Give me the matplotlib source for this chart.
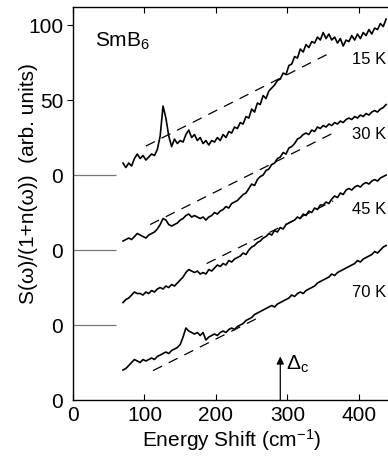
import numpy as np
import matplotlib
matplotlib.use("Agg")
import matplotlib.pyplot as plt

plt.rcParams['font.family'] = ['Liberation Sans', 'DejaVu Sans']
plt.rcParams['mathtext.fontset'] = 'custom'
plt.rcParams['mathtext.rm'] = 'Liberation Sans'
plt.rcParams['mathtext.it'] = 'Liberation Sans:italic'

# energy shift (cm-1), one sample every 4 cm-1
energy = np.arange(70, 442, 4)

# spectra, each relative to its own zero line
s15 = [8, 5, 8, 6, 11, 14, 11, 13, 10, 12,
       14, 13, 17, 26, 46, 38, 26, 19, 24, 21,
       23, 22, 27, 30, 25, 27, 23, 25, 21, 23,
       20, 23, 22, 25, 23, 27, 25, 29, 28, 32,
       31, 35, 34, 39, 38, 44, 42, 48, 47, 53,
       51, 56, 58, 60, 63, 64, 68, 67, 73, 74,
       79, 78, 84, 82, 87, 85, 89, 88, 92, 90,
       95, 91, 94, 90, 92, 88, 91, 86, 90, 89,
       93, 90, 94, 91, 95, 93, 97, 94, 98, 97,
       101, 99, 104]
s30 = [6, 7, 8, 7, 9, 11, 10, 9, 8, 10,
       11, 12, 14, 17, 21, 20, 17, 16, 17, 18,
       20, 21, 23, 24, 22, 23, 22, 21, 22, 20,
       22, 23, 25, 24, 26, 27, 29, 28, 31, 32,
       33, 35, 37, 38, 41, 44, 43, 47, 49, 50,
       53, 54, 57, 58, 61, 62, 65, 64, 68, 69,
       71, 74, 75, 77, 78, 77, 80, 79, 82, 81,
       83, 82, 84, 83, 85, 84, 86, 85, 87, 88,
       87, 89, 88, 90, 89, 91, 90, 92, 93, 92,
       94, 95, 97]
s45 = [15, 17, 18, 20, 22, 21, 21, 20, 22, 21,
       23, 22, 24, 25, 24, 26, 25, 27, 26, 28,
       30, 32, 35, 37, 36, 35, 36, 34, 35, 34,
       37, 36, 38, 40, 39, 41, 40, 43, 42, 44,
       45, 46, 48, 47, 50, 52, 53, 55, 56, 58,
       59, 61, 60, 63, 62, 65, 64, 67, 68, 69,
       70, 72, 71, 74, 73, 76, 75, 78, 77, 80,
       80, 82, 81, 84, 86, 85, 88, 87, 90, 91,
       90, 92, 93, 92, 94, 95, 94, 96, 97, 96,
       98, 99, 100]
s70 = [20, 21, 23, 25, 27, 26, 25, 27, 26, 27,
       28, 27, 29, 30, 31, 32, 31, 33, 34, 35,
       37, 42, 48, 46, 45, 44, 45, 43, 45, 40,
       42, 43, 44, 43, 45, 46, 45, 47, 48, 47,
       49, 50, 51, 53, 54, 55, 57, 58, 59, 60,
       61, 62, 63, 62, 64, 65, 66, 67, 68, 70,
       69, 71, 72, 71, 73, 74, 75, 76, 78, 79,
       80, 81, 82, 84, 83, 85, 86, 87, 88, 89,
       90, 91, 93, 92, 94, 95, 96, 97, 99, 98,
       100, 102, 103]

spectra = [s15, s30, s45, s70]
temps = ['15 K', '30 K', '45 K', '70 K']
offsets = [150, 100, 50, 0]

# dashed background lines: (x0, y0) -> (x1, y1), relative to zero line
dash_x0 = [102, 108, 187, 112]
dash_y0 = [19.3, 17, 41, 19.6]
dash_x1 = [360, 364, 364, 262]
dash_y1 = [81.5, 78, 82.7, 55.5]

label_y = [77, 77, 77, 72]  # height of "xx K" labels above zero line

ytick_pos = [0, 50, 100, 150, 200, 250]
ytick_lab = ['0', '0', '0', '0', '50', '100']

gap_edge = 290   # Delta_c position
gap_top = 29

fig = plt.figure(figsize=(3.88, 4.58), dpi=100)
ax = fig.add_axes([0.188, 0.1266, 0.82, 0.858])

for s, t, off, x0, y0, x1, y1 in zip(spectra, temps, offsets,
                                      dash_x0, dash_y0, dash_x1, dash_y1):
    ax.plot(energy, np.array(s) + off, color='black', lw=1.2)
    ax.plot([x0, x1], [y0 + off, y1 + off], color='black', lw=0.9,
            dashes=(8, 6))

for t, off, ly in zip(temps, offsets, label_y):
    ax.text(390, off + ly, t, fontsize=12, va='center', ha='left')

# zero lines of the shifted spectra
ax.hlines(offsets[:3], 0, 60, color='#777777', lw=0.9)

ax.text(31, 239, 'SmB$_{\\mathregular{6}}$', fontsize=15, va='center')

ax.annotate('', xy=(gap_edge, gap_top), xytext=(gap_edge, 0),
            arrowprops=dict(arrowstyle='-|>', color='black', lw=0.9,
                            mutation_scale=11, shrinkA=0, shrinkB=0))
ax.text(gap_edge + 8, 24, r'$\Delta_{\rm c}$', fontsize=15, va='center')

ax.set_xlim(0, 445)
ax.set_ylim(0, 262)
ax.set_xticks([0, 100, 200, 300, 400])
ax.set_yticks(ytick_pos)
ax.set_yticklabels(ytick_lab)
ax.tick_params(axis='x', direction='in', top=True, length=4, labelsize=15, pad=4)
ax.tick_params(axis='y', direction='out', length=4, labelsize=15, pad=3)
for tk in ax.yaxis.get_major_ticks()[:4]:
    tk.tick1line.set_visible(False)
for sp in ax.spines.values():
    sp.set_linewidth(1.0)

ax.set_xlabel('Energy Shift (cm$^{\\mathregular{-1}}$)', fontsize=15, labelpad=2)
ax.set_ylabel('S(ω)/(1+n(ω))  (arb. units)', fontsize=15)
ax.yaxis.set_label_coords(-0.11, 0.55)

fig.savefig('out.png', dpi=100)
